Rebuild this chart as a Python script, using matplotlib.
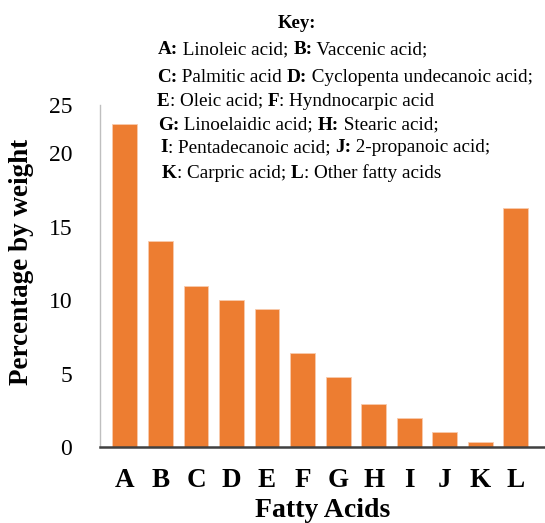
import matplotlib
matplotlib.use("Agg")
import matplotlib.pyplot as plt

# data
acids = ["A", "B", "C", "D", "E", "F", "G", "H", "I", "J", "K", "L"]
percent = [22.0, 14.0, 11.0, 10.0, 9.4, 6.4, 4.75, 2.9, 2.0, 1.05, 0.35, 16.25]
ytick_vals = [0, 5, 10, 15, 20]
key_lines = [
    [("A:", True), (" Linoleic acid; ", False), ("B:", True), (" Vaccenic acid;", False)],
    [("C:", True), (" Palmitic acid ", False), ("D:", True), (" Cyclopenta undecanoic acid;", False)],
    [("E", True), (": Oleic acid; ", False), ("F", True), (": Hyndnocarpic acid", False)],
    [("G:", True), (" Linoelaidic acid; ", False), ("H:", True), (" Stearic acid;", False)],
    [("I", True), (": Pentadecanoic acid; ", False), ("J:", True), (" 2-propanoic acid;", False)],
    [("K", True), (": Carpric acid; ", False), ("L", True), (": Other fatty acids", False)],
]

plt.rcParams["font.family"] = ["Liberation Serif", "DejaVu Serif"]

fig = plt.figure(figsize=(5.45, 5.23), dpi=100)
ax = fig.add_axes([0.1835, 0.1453, 0.8165, 0.654])

x = range(len(acids))
ax.bar(x, percent, width=0.7, color="#ED7D31", edgecolor="#F8CBAD", linewidth=0.6)

ytop = 23.3
ax.set_ylim(0, ytop)
ax.set_xlim(-0.7, 11.82)
ax.set_yticks(ytick_vals + [ytop])
ax.set_yticklabels([str(v) for v in ytick_vals] + ["25"], fontsize=17)
ax.set_xticks(list(x))
ax.set_xticklabels(acids, fontsize=19.5, fontweight="bold")
ax.tick_params(axis="both", length=0)
ax.tick_params(axis="y", pad=20)
ax.tick_params(axis="x", pad=15)

ax.spines["top"].set_visible(False)
ax.spines["right"].set_visible(False)
ax.spines["left"].set_color("#BFBFBF")
ax.spines["left"].set_linewidth(1.0)
ax.spines["bottom"].set_color("#404040")
ax.spines["bottom"].set_linewidth(1.8)

ax.set_xlabel("Fatty Acids", fontsize=20, fontweight="bold", labelpad=4)
ax.set_ylabel("Percentage by weight", fontsize=19.5, fontweight="bold")
ax.yaxis.set_label_coords(-0.148, 0.54)

# key block at the top
fig.text(297 / 545, 1 - 23 / 523, "Key:", fontsize=13.5, fontweight="bold",
         ha="center", va="center")
line_y = [50, 77, 101, 125, 148, 173]
line_x = [158, 157, 157, 158, 160, 162]
for xx, y, parts in zip(line_x, line_y, key_lines):
    t = None
    for s, bold in parts:
        kw = dict(fontsize=13.8, fontweight="bold" if bold else "normal", va="center")
        if t is None:
            t = fig.text(xx / 545, 1 - y / 523, s, ha="left", **kw)
        else:
            t = ax.annotate(s, xycoords=t, xy=(1, 0.5), ha="left", annotation_clip=False, **kw)

fig.savefig("out.png", dpi=100)
